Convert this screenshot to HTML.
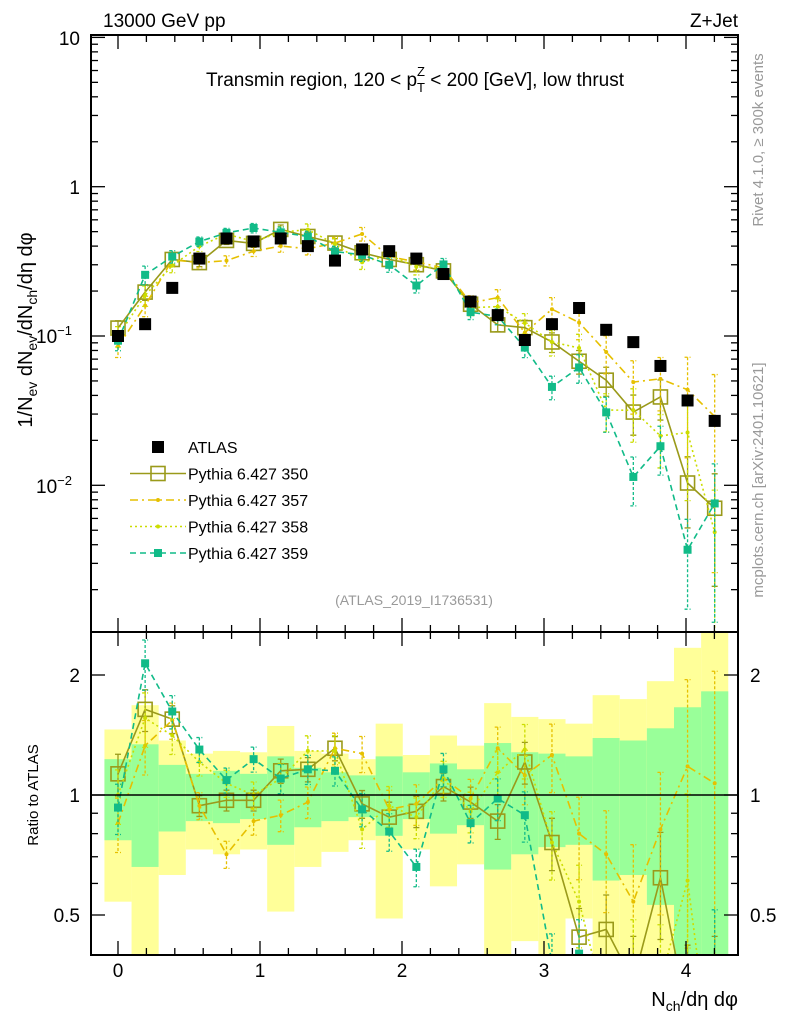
<!DOCTYPE html>
<html><head><meta charset="utf-8"><style>
html,body{margin:0;padding:0;background:#fff;width:786px;height:1024px;overflow:hidden}
svg{display:block;font-family:"Liberation Sans",sans-serif;overflow:hidden}
</style></head><body>
<svg id="chart" width="786" height="1024" viewBox="0 0 786 1024">
<defs>
<clipPath id="cm"><rect x="91" y="35" width="647" height="597"/></clipPath>
<clipPath id="cr"><rect x="91" y="632" width="647" height="323"/></clipPath>
</defs>
<g id="bands" clip-path="url(#cr)"></g>
<g id="mainMarks" clip-path="url(#cm)"></g>
<g id="ratioMarks" clip-path="url(#cr)"></g>
<g id="axes"></g>
<rect x="91" y="35" width="647" height="597" fill="none" stroke="#000" stroke-width="2"/>
<rect x="91" y="632" width="647" height="323" fill="none" stroke="#000" stroke-width="2"/>
<line x1="91" y1="795" x2="738" y2="795" stroke="#000" stroke-width="1.5"/>
<text x="103" y="27" font-size="19">13000 GeV pp</text>
<text x="738" y="27" font-size="19" text-anchor="end">Z+Jet</text>
<text x="415" y="86" font-size="19" text-anchor="middle">Transmin region, 120 &lt; p<tspan font-size="13" dy="6">T</tspan><tspan font-size="13" dx="-8" dy="-16">Z</tspan><tspan dy="10"> &lt; 200 [GeV], low thrust</tspan></text>
<text transform="translate(32,330) rotate(-90)" font-size="20" text-anchor="middle">1/N<tspan font-size="14" dy="5">ev</tspan><tspan dy="-5"> dN</tspan><tspan font-size="14" dy="5">ev</tspan><tspan dy="-5">/dN</tspan><tspan font-size="14" dy="5">ch</tspan><tspan dy="-5">/dη dφ</tspan></text>
<text transform="translate(38,795) rotate(-90)" font-size="15" text-anchor="middle">Ratio to ATLAS</text>
<text transform="translate(763,140) rotate(-90)" font-size="15" fill="#999" text-anchor="middle">Rivet 4.1.0, ≥ 300k events</text>
<text transform="translate(763,480) rotate(-90)" font-size="15" fill="#999" text-anchor="middle">mcplots.cern.ch [arXiv:2401.10621]</text>
<text x="414" y="605" font-size="14" fill="#999" text-anchor="middle">(ATLAS_2019_I1736531)</text>
<text x="738" y="1006" font-size="20" text-anchor="end">N<tspan font-size="14" dy="5">ch</tspan><tspan dy="-5">/dη dφ</tspan></text>
<g id="legend"></g>
</svg>
<script>
const xs=[0,0.191,0.382,0.573,0.764,0.955,1.146,1.337,1.528,1.719,1.91,2.101,2.292,2.483,2.674,2.865,3.056,3.247,3.438,3.629,3.82,4.011,4.202];
const atlas=[0.100,0.120,0.21,0.33,0.45,0.43,0.45,0.40,0.32,0.38,0.37,0.33,0.26,0.17,0.138,0.094,0.12,0.154,0.11,0.091,0.063,0.037,0.027];
const r350=[1.13,1.64,1.55,0.94,0.97,0.97,1.15,1.16,1.31,0.95,0.88,0.91,1.05,0.96,0.86,1.21,0.76,0.44,0.46,0.34,0.62,0.28,0.26];
const r357=[0.85,1.33,1.54,0.94,0.71,0.86,0.89,0.96,1.31,1.27,0.92,0.95,1.10,0.98,1.31,1.12,1.26,0.80,0.71,0.54,0.82,1.18,1.07];
const r358=[1.0,1.56,1.41,1.21,1.07,1.0,1.10,1.29,1.29,0.82,0.94,0.88,1.10,0.91,1.14,1.3,0.76,0.54,0.29,0.35,0.34,0.61,0.18];
const r359=[0.93,2.14,1.62,1.30,1.09,1.23,1.10,1.16,1.15,0.92,0.81,0.66,1.16,0.85,0.98,0.89,0.38,0.40,0.28,0.125,0.29,0.10,0.28];
const relErr=[0.12,0.12,0.08,0.06,0.06,0.06,0.07,0.07,0.07,0.08,0.09,0.09,0.08,0.09,0.1,0.12,0.15,0.18,0.22,0.3,0.3,0.5,0.7];
const yelUp=[1.46,1.68,1.37,1.27,1.29,1.28,1.49,1.29,1.27,1.23,1.51,1.26,1.41,1.33,1.70,1.57,1.55,1.51,1.78,1.74,1.93,2.34,2.6];
const yelDn=[0.54,0.39,0.63,0.73,0.71,0.73,0.51,0.66,0.72,0.77,0.49,0.73,0.59,0.67,0.39,0.43,0.39,0.49,0.39,0.39,0.39,0.39,0.39];
const grnUp=[1.23,1.34,1.19,1.13,1.15,1.13,1.25,1.17,1.14,1.12,1.25,1.14,1.20,1.16,1.35,1.28,1.27,1.25,1.39,1.37,1.47,1.66,1.82];
const grnDn=[0.77,0.66,0.81,0.86,0.85,0.87,0.75,0.83,0.86,0.88,0.79,0.87,0.80,0.84,0.65,0.71,0.74,0.75,0.61,0.63,0.53,0.39,0.39];
const xTicks=[0,1,2,3,4];
const NS='http://www.w3.org/2000/svg';
const X=v=>118+v*142;
const Y=v=>336-149.3*(Math.log10(v)+1);
const R=r=>795-120*Math.log2(r);
const MT=35,MB=632,RT=632,RB=955;
const cl=(v,a,b)=>Math.max(a,Math.min(b,v));
function mk(tag,attrs,parent){const e=document.createElementNS(NS,tag);for(const k in attrs)e.setAttribute(k,attrs[k]);parent.appendChild(e);return e;}
// clip a polyline to y range [t,b], returning list of segments (arrays of points)
function clipPoly(pts,t,b){const out=[];let cur=[];
 for(let i=0;i<pts.length-1;i++){let [x1,y1]=pts[i],[x2,y2]=pts[i+1];
  let t0=0,t1=1;const dy=y2-y1;
  if(dy===0){if(y1<t||y1>b){continue;}}
  else{let ta=(t-y1)/dy,tb=(b-y1)/dy;let lo=Math.min(ta,tb),hi=Math.max(ta,tb);t0=Math.max(0,lo);t1=Math.min(1,hi);if(t0>t1){if(cur.length){out.push(cur);cur=[];}continue;}}
  const p0=[x1+(x2-x1)*t0,y1+dy*t0],p1=[x1+(x2-x1)*t1,y1+dy*t1];
  if(!cur.length||t0>0){if(cur.length)out.push(cur);cur=[p0];}
  cur.push(p1);
  if(t1<1){out.push(cur);cur=[];}
 }
 if(cur.length)out.push(cur);return out;}
const step=0.191;
const bands=document.getElementById('bands');
xs.forEach((x,i)=>{
 const x0=X(x-step/2),w=X(x+step/2)-x0;
 let yt=cl(R(yelUp[i]),RT,RB),yb=cl(R(yelDn[i]),RT,RB);
 let e=mk('rect',{x:x0,y:yt,width:w,height:yb-yt,fill:'#ffff99'},bands);
 
 
 yt=cl(R(grnUp[i]),RT,RB);yb=cl(R(grnDn[i]),RT,RB);
 e=mk('rect',{x:x0,y:yt,width:w,height:yb-yt,fill:'#99ff99'},bands);
 
 
});
const series=[
 {name:'pythia-350',r:r350,color:'#9a9a1a',dash:'',marker:'open',ef:1},
 {name:'pythia-357',r:r357,color:'#e6c000',dash:'8,4,2,4',marker:'dot',ef:1.3},
 {name:'pythia-358',r:r358,color:'#ccdd00',dash:'2,3',marker:'dot',ef:1.3},
 {name:'pythia-359',r:r359,color:'#11bb88',dash:'6,4',marker:'fill',ef:1.2}
];
const mainG=document.getElementById('mainMarks'),ratG=document.getElementById('ratioMarks');
function drawMarker(g,m,x,y,c,nm,t,b){if(y<t||y>b)return;let e;
 if(m==='open')e=mk('rect',{x:x-7,y:y-7,width:14,height:14,fill:'none',stroke:c,'stroke-width':1.6},g);
 else if(m==='fill')e=mk('rect',{x:x-4,y:y-4,width:8,height:8,fill:c},g);
 else if(m==='atlas')e=mk('rect',{x:x-6,y:y-6,width:12,height:12,fill:'#000'},g);
 else e=mk('circle',{cx:x,cy:y,r:2,fill:c},g);
 
 }
function errBar(g,x,ya,yb,c,dash,t,b){
 const y1=cl(ya,t,b),y2=cl(yb,t,b);if(y1===y2)return;
 let d=`M${x},${y1}V${y2}`;if(ya>=t)d+=`M${x-3},${y1}h6`;if(yb<=b)d+=`M${x-3},${y2}h6`;
 const e=mk('path',{d,stroke:c,'stroke-width':1.3,fill:'none','stroke-dasharray':dash},g);
 
 }
function drawLine(g,pts,s,t,b,nm){clipPoly(pts,t,b).forEach(seg=>{
 const p=mk('polyline',{points:seg.map(q=>q[0].toFixed(2)+','+q[1].toFixed(2)).join(' '),fill:'none',stroke:s.color,'stroke-width':1.6,'stroke-dasharray':s.dash},g);
 
 });}
series.forEach(s=>{
 const vals=s.r.map((r,i)=>r*atlas[i]);
 const gm=mk('g',{},mainG);
 const gr=mk('g',{},ratG);
 drawLine(gm,xs.map((x,i)=>[X(x),Y(vals[i])]),s,MT,MB,s.name+'-line');
 drawLine(gr,xs.map((x,i)=>[X(x),R(s.r[i])]),s,RT,RB,s.name+'-ratio-line');
 xs.forEach((x,i)=>{
  const e=relErr[i]*s.ef;
  errBar(gm,X(x),Y(vals[i]*(1+e)),Y(Math.max(vals[i]*(1-e),1e-4)),s.color,s.dash?'3,2':'',MT,MB);
  errBar(gr,X(x),R(s.r[i]*(1+e)),R(Math.max(s.r[i]*(1-e),0.05)),s.color,s.dash?'3,2':'',RT,RB);
  drawMarker(gm,s.marker,X(x),Y(vals[i]),s.color,s.name+'-point',MT,MB);
  drawMarker(gr,s.marker,X(x),R(s.r[i]),s.color,s.name+'-ratio-point',RT,RB);
 });
});
xs.forEach((x,i)=>drawMarker(mainG,'atlas',X(x),Y(atlas[i]),'#000','atlas-point',MT,MB));
const ax=document.getElementById('axes');
function tick(x1,y1,x2,y2,nm){const e=mk('line',{x1,y1,x2,y2,stroke:'#000','stroke-width':1.3},ax);}
function label(x,y,t,anchor,size,nm){const e=mk('text',{x,y,'text-anchor':anchor,'font-size':size},ax);e.textContent=t;return e;}
for(let d=-3;d<=1;d++)for(let k=1;k<10;k++){const v=k*Math.pow(10,d);const y=Y(v);if(y<35||y>632)continue;const L=k===1?14:7;tick(91,y,91+L,y,'y-tick');tick(738,y,738-L,y,'y-tick');}
label(80,45,'10','end',19,'y-tick-label');
label(80,194,'1','end',19,'y-tick-label');
let t=label(72,343,'10','end',19,'y-tick-label');let ts=mk('tspan',{'font-size':13,dy:-8},t);ts.textContent='−1';
t=label(72,493,'10','end',19,'y-tick-label');ts=mk('tspan',{'font-size':13,dy:-8},t);ts.textContent='−2';
for(let v=-0.2;v<=4.4;v+=0.2){const x=X(v);if(x<91||x>738)continue;const maj=Math.abs(v-Math.round(v))<1e-6;const L=maj?14:7;
 tick(x,632,x,632-L,'x-tick');tick(x,35,x,35+L,'x-tick');tick(x,955,x,955-L,'x-tick');tick(x,632,x,632+L,'x-tick');}
xTicks.forEach(v=>label(X(v),977,String(v),'middle',19,'x-tick-label'));
[0.5,0.6,0.7,0.8,0.9,1,2].forEach(r=>{const y=R(r);const L=(r===1||r===2||r===0.5)?14:7;tick(91,y,91+L,y,'ratio-y-tick');tick(738,y,738-L,y,'ratio-y-tick');});
[[2,'2'],[1,'1'],[0.5,'0.5']].forEach(([r,s])=>{label(80,R(r)+7,s,'end',19,'ratio-tick-label');label(750,R(r)+7,s,'start',19,'ratio-tick-label');});
const lg=document.getElementById('legend');
const entries=[['ATLAS','#000','','atlas'],['Pythia 6.427 350','#9a9a1a','','open'],['Pythia 6.427 357','#e6c000','8,4,2,4','dot'],['Pythia 6.427 358','#ccdd00','2,3','dot'],['Pythia 6.427 359','#11bb88','6,4','fill']];
entries.forEach((en,i)=>{const y=447+i*26.5;const g=mk('g',{},lg);
 
 
 if(en[3]!=='atlas'){mk('line',{x1:130,y1:y,x2:186,y2:y,stroke:en[1],'stroke-width':1.6,'stroke-dasharray':en[2]},g);}
 drawMarker(g,en[3],158,y,en[1],'legend-marker',0,1024);
 const tx=mk('text',{x:188,y:y+6,'font-size':16},g);tx.textContent=en[0];
});
</script>
</body></html>
